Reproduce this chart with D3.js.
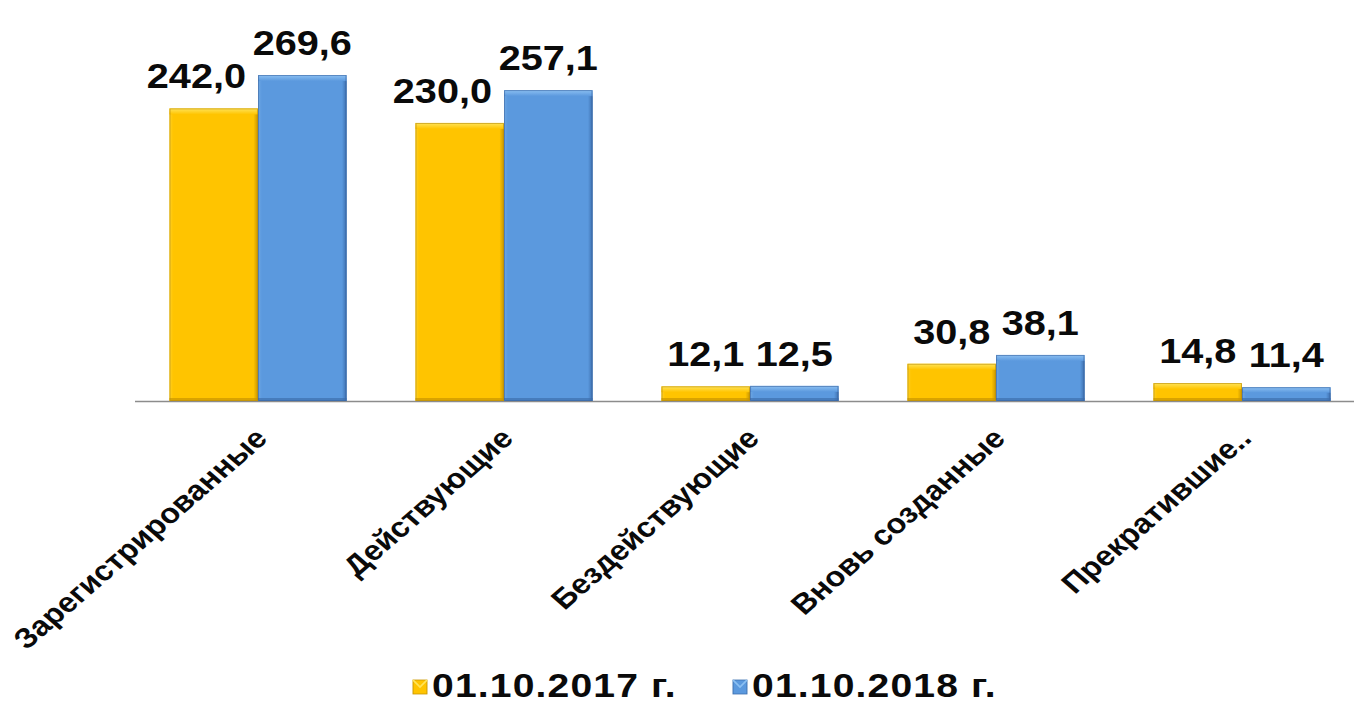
<!DOCTYPE html>
<html><head><meta charset="utf-8">
<script src="https://cdn.jsdelivr.net/npm/d3@7"></script>
<style>html,body{margin:0;padding:0;background:#fff;overflow:hidden}</style>
</head><body>
<svg id="chart" width="1354" height="704"></svg>
<script>
const categories = ["Зарегистрированные","Действующие","Бездействующие","Вновь созданные","Прекратившие.."];
const seriesNames = ["01.10.2017 г.","01.10.2018 г."];
const values2017 = [242.0, 230.0, 12.1, 30.8, 14.8];
const values2018 = [269.6, 257.1, 12.5, 38.1, 11.4];

const SX = 1.15; // horizontal stretch of the original picture
const W = 1354, H = 704;
const svg = d3.select("#chart");
const root = svg.append("g").attr("transform", `scale(${SX},1)`);

const palettes = [
  {main:"#FFC400", light:"#FFE45A", dark:"#C99600", edge:"#B58A10"},
  {main:"#5B99DE", light:"#8CC0F2", dark:"#3D6FAE", edge:"#3A64A0"}
];

const defs = svg.append("defs");
palettes.forEach((p,i)=>{
  const gt = defs.append("linearGradient").attr("id","top"+i).attr("x1",0).attr("y1",0).attr("x2",0).attr("y2",1);
  gt.append("stop").attr("offset","0%").attr("stop-color",p.light);
  gt.append("stop").attr("offset","100%").attr("stop-color",p.main);
  const gr = defs.append("linearGradient").attr("id","right"+i).attr("x1",0).attr("y1",0).attr("x2",1).attr("y2",0);
  gr.append("stop").attr("offset","0%").attr("stop-color",p.main);
  gr.append("stop").attr("offset","100%").attr("stop-color",p.dark);
  const gl = defs.append("linearGradient").attr("id","left"+i).attr("x1",0).attr("y1",0).attr("x2",1).attr("y2",0);
  gl.append("stop").attr("offset","0%").attr("stop-color",p.light).attr("stop-opacity",0.6);
  gl.append("stop").attr("offset","100%").attr("stop-color",p.main).attr("stop-opacity",0);
});

const x0 = d3.scaleBand().domain(categories).range([135/SX, 1365/SX]).paddingInner(0.28).paddingOuter(0.14);
const x1 = d3.scaleBand().domain(seriesNames).range([0, x0.bandwidth()]);
const y = d3.scaleLinear().domain([0, 300]).range([401, 401 - 300*1.209]);

const data = categories.map((c,i)=>({cat:c, vals:[values2017[i], values2018[i]]}));

// axis line
root.append("line").attr("x1", 135/SX).attr("x2", W/SX).attr("y1", y(0)+0.5).attr("y2", y(0)+0.5)
  .attr("stroke","#8c8c8c").attr("stroke-width",1.3);

const groups = root.selectAll("g.cat").data(data).join("g").attr("class","cat")
  .attr("transform", d=>`translate(${x0(d.cat)},0)`);

groups.each(function(d){
  const g = d3.select(this);
  d.vals.forEach((v,si)=>{
    const p = palettes[si];
    const bx = x1(seriesNames[si]), bw = x1.bandwidth();
    const by = y(v), bh = y(0) - y(v);
    const bar = g.append("g");
    bar.append("rect").attr("x",bx).attr("y",by).attr("width",bw).attr("height",bh).attr("fill",p.main);
    const e = Math.min(6, bh/2.5);
    bar.append("rect").attr("x",bx).attr("y",by).attr("width",bw).attr("height",e).attr("fill",`url(#top${si})`);
    bar.append("rect").attr("x",bx+bw-4).attr("y",by+e).attr("width",4).attr("height",Math.max(0,bh-e)).attr("fill",`url(#right${si})`);
    bar.append("rect").attr("x",bx).attr("y",by+e).attr("width",4).attr("height",Math.max(0,bh-e)).attr("fill",`url(#left${si})`);
    bar.append("rect").attr("x",bx).attr("y",y(0)-Math.min(3,bh/3)).attr("width",bw).attr("height",Math.min(3,bh/3)).attr("fill",p.dark).attr("opacity",0.7);
    bar.append("rect").attr("x",bx+0.5).attr("y",by+0.5).attr("width",bw-1).attr("height",Math.max(0,bh-1))
      .attr("fill","none").attr("stroke",p.edge).attr("stroke-width",0.8).attr("opacity",0.7);
  });
  // value labels
  const fmt = v => v.toFixed(1).replace(".", ",");
  d.vals.forEach((v,si)=>{
    const bx = x1(seriesNames[si]), bw = x1.bandwidth();
    const base = y(v) - 20;
    let tx = bx + bw/2, anchor = "middle";
    if (si === 0 && y(d.vals[1]) < base) { tx = bx + bw - 12/SX; anchor = "end"; }
    g.append("text").attr("x",tx).attr("y",base).attr("text-anchor",anchor)
      .attr("font-family","Liberation Sans, Arial, sans-serif").attr("font-weight","bold")
      .attr("font-size",34.5).attr("fill","#0a0a0a").text(fmt(v));
  });
  // category label
  const ax = x0.bandwidth()/2 + 11/SX, ay = 440;
  g.append("text").attr("transform",`translate(${ax},${ay}) rotate(-45)`).attr("text-anchor","end")
    .attr("font-family","Liberation Sans, Arial, sans-serif").attr("font-weight","bold")
    .attr("font-size",28).attr("fill","#0a0a0a").text(d.cat);
});

// legend
const legend = root.append("g");
const legendX = [413/SX, 733/SX];
seriesNames.forEach((s,i)=>{
  const p = palettes[i];
  const lg = legend.append("g").attr("transform",`translate(${legendX[i]},0)`);
  lg.append("rect").attr("x",0).attr("y",680).attr("width",14/SX).attr("height",14).attr("fill",p.main).attr("stroke",p.dark).attr("stroke-width",0.8);
  lg.append("path").attr("d",`M0,680 L${7/SX},687 L${14/SX},680`).attr("fill","none").attr("stroke",p.light).attr("stroke-width",1.5);
  lg.append("text").attr("x",19/SX).attr("y",697)
    .attr("font-family","Liberation Sans, Arial, sans-serif").attr("font-weight","bold")
    .attr("letter-spacing",1).attr("font-size",34).attr("fill","#0a0a0a").text(s);
});
</script>
</body></html>
